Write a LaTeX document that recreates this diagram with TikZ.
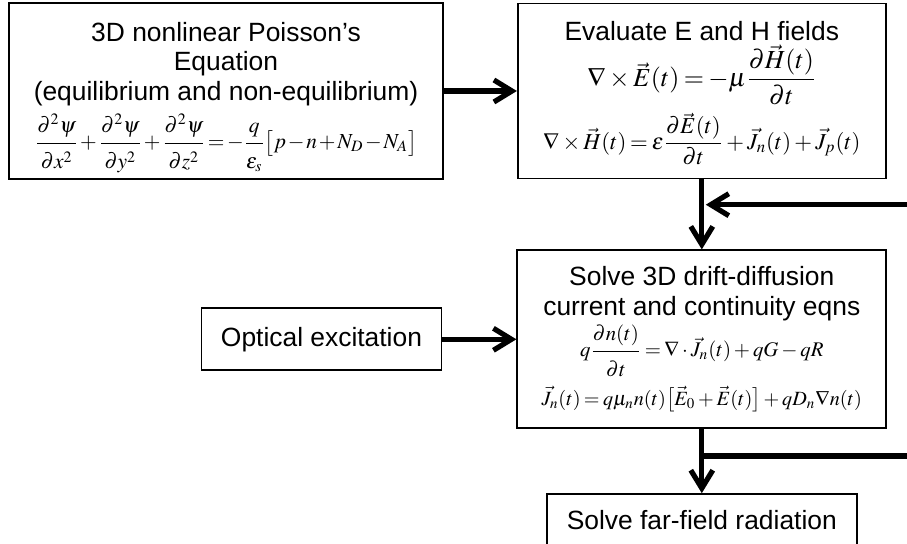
\documentclass[tikz,border=0pt]{standalone}
\usepackage{amsmath}
\usepackage{mathptmx}
\usepackage[no-math]{fontspec}
\setmainfont{Liberation Sans}
\usetikzlibrary{arrows.meta, positioning}
\medmuskip=2.5mu plus 1mu minus 1mu
\thickmuskip=3mu plus 1mu
\newcommand{\numgap}{\rule[-4pt]{0pt}{4pt}}
\newcommand{\dengap}{\rule{0pt}{11pt}}
\tikzstyle{block} = [rectangle, draw=black, line width=0.9pt, align=center, inner sep=2pt, font=\fontsize{13.2}{14.8}\selectfont]
\tikzstyle{arrow} = [line width=2.6pt, -{Straight Barb[length=9pt, width=11pt]}]
\tikzstyle{feed} = [line width=2.6pt]

\begin{document}
\begin{tikzpicture}
    \useasboundingbox (0,0) rectangle (453.5pt,-272pt);

    % Poisson solver
    \node[block, minimum width=217pt, minimum height=88pt] (poisson) at (113pt,-45.5pt) {\rule{0pt}{16pt}3D nonlinear Poisson's\\Equation\\(equilibrium and non-equilibrium)\\[3pt]
        {\fontsize{10.7}{12}\selectfont \medmuskip=1.5mu \thickmuskip=2mu $\displaystyle \frac{\partial^2\psi\numgap}{\dengap\partial x^2}+\frac{\partial^2\psi\numgap}{\dengap\partial y^2}+\frac{\partial^2\psi\numgap}{\dengap\partial z^2}=-\frac{q\numgap}{\dengap\varepsilon_s}\bigl[p-n+N_D-N_A\bigr]$}};

    % Field update
    \node[block, right=36.5pt of poisson, minimum width=184pt, minimum height=87.5pt] (fields) {\rule{0pt}{12pt}Evaluate E and H fields\\[1pt]
        {\fontsize{13}{13}\selectfont $\displaystyle \nabla\times\vec{E}(t)=-\mu\frac{\partial\vec{H}(t)}{\partial t}$}\\[3pt]
        {\fontsize{11.4}{12}\selectfont $\displaystyle \nabla\times\vec{H}(t)=\varepsilon\frac{\partial\vec{E}(t)}{\partial t}+\vec{J}_n(t)+\vec{J}_p(t)$}};

    % Drift-diffusion
    \node[block, below=35pt of fields, minimum width=184.5pt, minimum height=89pt] (drift) {Solve 3D drift-diffusion\\current and continuity eqns\\[1pt]
        {\fontsize{10.4}{12}\selectfont $\displaystyle q\frac{\partial n(t)\numgap}{\dengap\partial t}=\nabla\cdot\vec{J}_n(t)+qG-qR$}\\[4pt]
        {\fontsize{10.1}{12}\selectfont $\vec{J}_n(t)=q\mu_n n(t)\bigl[\vec{E}_0+\vec{E}(t)\bigr]+qD_n\nabla n(t)$}};

    % Optical input
    \node[block, left=37pt of drift, minimum width=120pt, minimum height=31pt] (optical) {Optical excitation};

    % Far field
    \node[block, below=32pt of drift, minimum width=155pt, minimum height=25.5pt] (farfield) {Solve far-field radiation};

    % Loop ends
    \coordinate (fbtop) at (453.5pt,-102.35pt);
    \coordinate (fbbot) at (453.5pt,-228pt);

    % Arrows
    \draw[arrow] (poisson) -- (fields);
    \draw[arrow] (fields) -- (drift);
    \draw[arrow] (optical) -- (drift);
    \draw[arrow] (drift) -- (farfield);
    \draw[arrow, shorten >=2pt] (fbtop) -- (fbtop -| fields.south);
    \draw[feed] (fbbot) -- (fbbot -| drift.south);
\end{tikzpicture}
\end{document}
